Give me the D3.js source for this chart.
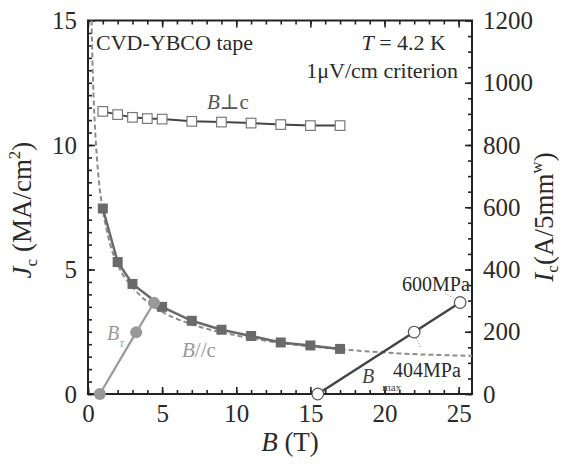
<!DOCTYPE html>
<html><head><meta charset="utf-8">
<script src="https://cdn.jsdelivr.net/npm/d3@7"></script>
<style>
html,body{margin:0;padding:0;background:#fff;}
</style></head>
<body>
<svg id="c" width="565" height="465"></svg>
<script>
// ---- data ----
const perpB  = [1, 2, 3, 4, 5, 7, 9, 11, 13, 15, 17];
const perpJc = [11.35, 11.22, 11.11, 11.06, 11.04, 10.95, 10.92, 10.88, 10.82, 10.78, 10.78];
const parB   = [1, 2, 3, 5, 7, 9, 11, 13, 15, 17];
const parJc  = [7.45, 5.30, 4.42, 3.50, 2.94, 2.58, 2.33, 2.07, 1.95, 1.81];
const fitB   = [0.24, 0.3, 0.4, 0.5, 0.6, 0.8, 1, 1.5, 2, 3, 4, 5, 7, 10, 13, 17, 21, 25.9];
const fitJc  = [15, 13.4, 11.6, 10.4, 9.5, 8.2, 7.4, 6.0, 5.2, 4.3, 3.7, 3.3, 2.8, 2.35, 2.05, 1.8, 1.63, 1.53];
const brB    = [0.8, 3.25, 4.45];
const brIc   = [0, 198, 293];
const bmaxB  = [15.5, 22.0, 25.1];
const bmaxIc = [0, 199, 294];
const xTicks  = [0, 5, 10, 15, 20, 25];
const yTicks  = [0, 5, 10, 15];
const y2Ticks = [0, 200, 400, 600, 800, 1000, 1200];

const FONT = "'Liberation Serif', 'DejaVu Serif', 'Times New Roman', Times, serif";
const TXT = "#2a2a2a";
const svg = d3.select("#c").attr("font-family", FONT);
const L = 88, R = 472, T = 20.5, B = 394;
const x  = d3.scaleLinear().domain([0, 25.9]).range([L, R]);
const y  = d3.scaleLinear().domain([0, 15]).range([B, T]);
const y2 = d3.scaleLinear().domain([0, 1200]).range([B, T]);

const axisCol = "#222";
function styleAxis(g, fs){
  g.attr("font-family", FONT);
  g.select(".domain").remove();
  g.selectAll("line").attr("stroke", axisCol).attr("stroke-width", 1.6);
  g.selectAll("text").attr("font-size", fs).attr("fill", TXT).attr("font-family", FONT);
}
// minor ticks
svg.append("g").attr("transform", `translate(0,${B})`)
  .call(d3.axisBottom(x).tickValues(d3.range(0, 26, 1)).tickSize(-4).tickFormat(""))
  .call(g => styleAxis(g, 0));
svg.append("g").attr("transform", `translate(0,${T})`)
  .call(d3.axisTop(x).tickValues(d3.range(0, 26, 1)).tickSize(-4).tickFormat(""))
  .call(g => styleAxis(g, 0));
svg.append("g").attr("transform", `translate(${L},0)`)
  .call(d3.axisLeft(y).tickValues(d3.range(0, 15.01, 0.5)).tickSize(-4).tickFormat(""))
  .call(g => styleAxis(g, 0));
svg.append("g").attr("transform", `translate(${R},0)`)
  .call(d3.axisRight(y2).tickValues(d3.range(0, 1201, 50)).tickSize(-4).tickFormat(""))
  .call(g => styleAxis(g, 0));
// major ticks + labels
svg.append("g").attr("transform", `translate(0,${B})`)
  .call(d3.axisBottom(x).tickValues(xTicks).tickSize(-7).tickPadding(10).tickFormat(d3.format("d")))
  .call(g => styleAxis(g, 25));
svg.append("g").attr("transform", `translate(0,${T})`)
  .call(d3.axisTop(x).tickValues(xTicks).tickSize(-7).tickFormat(""))
  .call(g => styleAxis(g, 0));
svg.append("g").attr("transform", `translate(${L},0)`)
  .call(d3.axisLeft(y).tickValues(yTicks).tickSize(-7).tickPadding(11).tickFormat(d3.format("d")))
  .call(g => styleAxis(g, 25));
svg.append("g").attr("transform", `translate(${R},0)`)
  .call(d3.axisRight(y2).tickValues(y2Ticks).tickSize(-7).tickPadding(11).tickFormat(d3.format("d")))
  .call(g => styleAxis(g, 25));
// frame
svg.append("rect").attr("x", L).attr("y", T).attr("width", R - L).attr("height", B - T)
  .attr("fill", "none").attr("stroke", axisCol).attr("stroke-width", 2);

// ---- series ----
const line = d3.line();
const fitPts = fitB.map((b, i) => [x(b), y(fitJc[i])]);
svg.append("path").attr("d", d3.line().curve(d3.curveMonotoneX)(fitPts))
  .attr("fill", "none").attr("stroke", "#8c8c8c").attr("stroke-width", 2).attr("stroke-dasharray", "5,3");

const parPts = parB.map((b, i) => [x(b), y(parJc[i])]);
svg.append("path").attr("d", line(parPts))
  .attr("fill", "none").attr("stroke", "#6a6a6a").attr("stroke-width", 2.5);
svg.selectAll(".par").data(parPts).enter().append("rect")
  .attr("x", d => d[0] - 5).attr("y", d => d[1] - 5).attr("width", 10).attr("height", 10)
  .attr("fill", "#6a6a6a");

const perpPts = perpB.map((b, i) => [x(b), y(perpJc[i])]);
svg.append("path").attr("d", line(perpPts))
  .attr("fill", "none").attr("stroke", "#444").attr("stroke-width", 2);
svg.selectAll(".perp").data(perpPts).enter().append("rect")
  .attr("x", d => d[0] - 4.8).attr("y", d => d[1] - 4.8).attr("width", 9.6).attr("height", 9.6)
  .attr("fill", "#fff").attr("stroke", "#7a7a7a").attr("stroke-width", 1.2);

const brPts = brB.map((b, i) => [x(b), y2(brIc[i])]);
svg.append("path").attr("d", line(brPts))
  .attr("fill", "none").attr("stroke", "#999").attr("stroke-width", 2.2);
svg.selectAll(".br").data(brPts).enter().append("circle")
  .attr("cx", d => d[0]).attr("cy", d => d[1]).attr("r", 6).attr("fill", "#999");

const bmPts = bmaxB.map((b, i) => [x(b), y2(bmaxIc[i])]);
svg.append("path").attr("d", line(bmPts))
  .attr("fill", "none").attr("stroke", "#444").attr("stroke-width", 2.5);
svg.selectAll(".bm").data(bmPts).enter().append("circle")
  .attr("cx", d => d[0]).attr("cy", d => d[1]).attr("r", 5.8)
  .attr("fill", "#fff").attr("stroke", "#555").attr("stroke-width", 1.2);

// leader dots
svg.append("line").attr("x1", 445).attr("y1", 293).attr("x2", 455).attr("y2", 299)
  .attr("stroke", "#777").attr("stroke-width", 1).attr("stroke-dasharray", "1,2");
svg.append("line").attr("x1", 416).attr("y1", 338).attr("x2", 421).attr("y2", 348)
  .attr("stroke", "#777").attr("stroke-width", 1).attr("stroke-dasharray", "1,2");

// ---- texts ----
function txt(xp, yp, s, fs, col, anchor){
  return svg.append("text").attr("x", xp).attr("y", yp).attr("font-size", fs).attr("font-family", FONT)
    .attr("fill", col || TXT).attr("text-anchor", anchor || "start").text(s);
}
txt(96, 50, "CVD-YBCO tape", 22);
const tt = svg.append("text").attr("x", 446).attr("y", 50).attr("font-size", 22).attr("font-family", FONT).attr("fill", TXT).attr("text-anchor", "end");
tt.append("tspan").attr("font-style", "italic").text("T");
tt.append("tspan").text(" = 4.2 K");
txt(458, 78, "1μV/cm criterion", 22, TXT, "end");

const lp = svg.append("text").attr("x", 207).attr("y", 109).attr("font-size", 21).attr("font-family", FONT).attr("fill", "#555");
lp.append("tspan").attr("font-style", "italic").text("B");
lp.append("tspan").text("⊥c");
const lpar = svg.append("text").attr("x", 182).attr("y", 357).attr("font-size", 21).attr("font-family", FONT).attr("fill", "#999");
lpar.append("tspan").attr("font-style", "italic").text("B");
lpar.append("tspan").text("//c");
const lbr = svg.append("text").attr("x", 107).attr("y", 340).attr("font-size", 20).attr("font-family", FONT).attr("fill", "#999");
lbr.append("tspan").attr("font-style", "italic").text("B");
lbr.append("tspan").attr("font-size", 12).attr("dy", 7).attr("dx", 1).text("r");
const lbm = svg.append("text").attr("x", 362).attr("y", 383).attr("font-size", 20).attr("font-family", FONT).attr("fill", "#444");
lbm.append("tspan").attr("font-style", "italic").text("B");
lbm.append("tspan").attr("font-size", 11).attr("dy", 8).attr("dx", 8).text("max");

txt(402, 291, "600MPa", 20, TXT);
txt(393, 377, "404MPa", 20, TXT);

// axis titles
const xt = svg.append("text").attr("x", 290).attr("y", 451).attr("font-size", 27).attr("font-family", FONT).attr("fill", TXT).attr("text-anchor", "middle");
xt.append("tspan").attr("font-style", "italic").text("B");
xt.append("tspan").text(" (T)");

const yt = svg.append("text").attr("transform", "translate(31,210) rotate(-90)")
  .attr("font-size", 27).attr("font-family", FONT).attr("fill", TXT).attr("text-anchor", "middle");
yt.append("tspan").attr("font-style", "italic").text("J");
yt.append("tspan").attr("font-size", 17).attr("dy", 6).text("c");
yt.append("tspan").attr("dy", -6).text(" (MA/cm");
yt.append("tspan").attr("font-size", 17).attr("dy", -11).text("2");
yt.append("tspan").attr("dy", 11).text(")");

const y2t = svg.append("text").attr("transform", "translate(553,217) rotate(-90)")
  .attr("font-size", 27).attr("font-family", FONT).attr("fill", TXT).attr("text-anchor", "middle");
y2t.append("tspan").attr("font-style", "italic").text("I");
y2t.append("tspan").attr("font-size", 17).attr("dy", 5).text("c");
y2t.append("tspan").attr("dy", -5).text("(A/5mm");
y2t.append("tspan").attr("font-size", 17).attr("dy", -11).text("w");
y2t.append("tspan").attr("dy", 11).text(")");
</script>
</body></html>
